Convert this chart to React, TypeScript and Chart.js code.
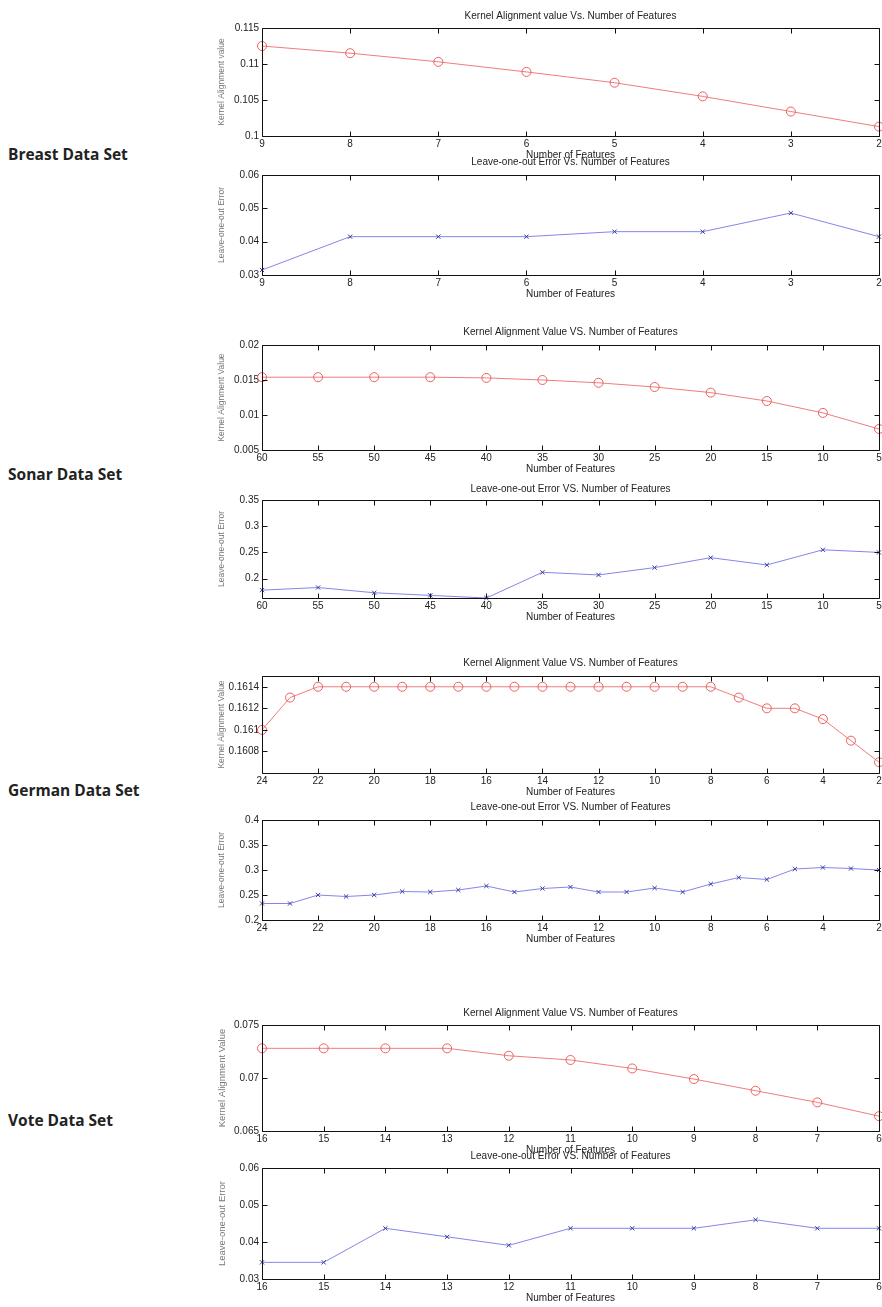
import React, { useEffect, useRef } from "react";
import { Chart, registerables } from "chart.js";

Chart.register(...registerables);

// ---------------- data ----------------
const breastFeatures = [9, 8, 7, 6, 5, 4, 3, 2];
const breastKA = [0.1125, 0.1115, 0.1103, 0.1089, 0.1074, 0.1055, 0.1034, 0.1013];
const breastLOO = [0.0315, 0.0415, 0.0415, 0.0415, 0.043, 0.043, 0.0486, 0.0415];

const sonarFeatures = [60, 55, 50, 45, 40, 35, 30, 25, 20, 15, 10, 5];
const sonarKA = [0.0154, 0.0154, 0.0154, 0.0154, 0.0153, 0.015, 0.0146, 0.014, 0.0132, 0.012, 0.0103, 0.008];
const sonarLOO = [0.178, 0.183, 0.173, 0.168, 0.163, 0.212, 0.207, 0.221, 0.24, 0.226, 0.255, 0.25];

const germanFeatures = [24, 23, 22, 21, 20, 19, 18, 17, 16, 15, 14, 13, 12, 11, 10, 9, 8, 7, 6, 5, 4, 3, 2];
const germanKA = [
  0.161, 0.1613, 0.1614, 0.1614, 0.1614, 0.1614, 0.1614, 0.1614, 0.1614, 0.1614, 0.1614, 0.1614,
  0.1614, 0.1614, 0.1614, 0.1614, 0.1614, 0.1613, 0.1612, 0.1612, 0.1611, 0.1609, 0.1607,
];
const germanLOO = [
  0.233, 0.233, 0.25, 0.247, 0.25, 0.257, 0.256, 0.26, 0.268, 0.256, 0.263, 0.266,
  0.256, 0.256, 0.264, 0.256, 0.272, 0.285, 0.281, 0.302, 0.305, 0.303, 0.3,
];

const voteFeatures = [16, 15, 14, 13, 12, 11, 10, 9, 8, 7, 6];
const voteKA = [0.0728, 0.0728, 0.0728, 0.0728, 0.0721, 0.0717, 0.0709, 0.0699, 0.0688, 0.0677, 0.0664];
const voteLOO = [0.0345, 0.0345, 0.0437, 0.0414, 0.0391, 0.0437, 0.0437, 0.0437, 0.046, 0.0437, 0.0437];

// y tick labels
const breastKATicks = [0.1, 0.105, 0.11, 0.115];
const breastLOOTicks = [0.03, 0.04, 0.05, 0.06];
const sonarKATicks = [0.005, 0.01, 0.015, 0.02];
const sonarLOOTicks = [0.2, 0.25, 0.3, 0.35];
const germanKATicks = [0.1608, 0.161, 0.1612, 0.1614];
const germanLOOTicks = [0.2, 0.25, 0.3, 0.35, 0.4];
const voteKATicks = [0.065, 0.07, 0.075];
const voteLOOTicks = [0.03, 0.04, 0.05, 0.06];

const setLabels = ["Breast Data Set", "Sonar Data Set", "German Data Set", "Vote Data Set"];

// ---------------- layout ----------------
const PLOT_LEFT = 262;
const PLOT_RIGHT = 879;
const Y_AXIS_W = 60;
const RIGHT_PAD = 10;
const X_AXIS_H = 25;
const FONT = "'Liberation Sans', Arial, Helvetica, sans-serif";

type Panel = {
  title: string;
  yTitle: string;
  xs: number[];
  ys: number[];
  kind: "ka" | "loo";
  yMin: number;
  yMax: number;
  yTicks: number[];
  xStep: number;
  top: number;
  bottom: number;
  titleOffset: number;
  yTitleSize: number;
};

const panels: Panel[] = [
  { title: "Kernel Alignment value Vs. Number of Features", yTitle: "Kernel Alignment value", xs: breastFeatures, ys: breastKA, kind: "ka", yMin: 0.1, yMax: 0.115, yTicks: breastKATicks, xStep: 1, top: 28, bottom: 136, titleOffset: 12, yTitleSize: 8.5 },
  { title: "Leave-one-out Error Vs. Number of Features", yTitle: "Leave-one-out Error", xs: breastFeatures, ys: breastLOO, kind: "loo", yMin: 0.03, yMax: 0.06, yTicks: breastLOOTicks, xStep: 1, top: 175, bottom: 275, titleOffset: 13, yTitleSize: 8.5 },
  { title: "Kernel Alignment Value VS. Number of Features", yTitle: "Kernel Alignment Value", xs: sonarFeatures, ys: sonarKA, kind: "ka", yMin: 0.005, yMax: 0.02, yTicks: sonarKATicks, xStep: 5, top: 345, bottom: 450, titleOffset: 13, yTitleSize: 8.5 },
  { title: "Leave-one-out Error VS. Number of Features", yTitle: "Leave-one-out Error", xs: sonarFeatures, ys: sonarLOO, kind: "loo", yMin: 0.163, yMax: 0.35, yTicks: sonarLOOTicks, xStep: 5, top: 500, bottom: 598, titleOffset: 11, yTitleSize: 8.5 },
  { title: "Kernel Alignment Value VS. Number of Features", yTitle: "Kernel Alignment Value", xs: germanFeatures, ys: germanKA, kind: "ka", yMin: 0.1606, yMax: 0.1615, yTicks: germanKATicks, xStep: 2, top: 676, bottom: 773, titleOffset: 13, yTitleSize: 8.5 },
  { title: "Leave-one-out Error VS. Number of Features", yTitle: "Leave-one-out Error", xs: germanFeatures, ys: germanLOO, kind: "loo", yMin: 0.2, yMax: 0.4, yTicks: germanLOOTicks, xStep: 2, top: 820, bottom: 920, titleOffset: 13, yTitleSize: 8.5 },
  { title: "Kernel Alignment Value VS. Number of Features", yTitle: "Kernel Alignment Value", xs: voteFeatures, ys: voteKA, kind: "ka", yMin: 0.065, yMax: 0.075, yTicks: voteKATicks, xStep: 1, top: 1025, bottom: 1131, titleOffset: 12, yTitleSize: 9.5 },
  { title: "Leave-one-out Error VS. Number of Features", yTitle: "Leave-one-out Error", xs: voteFeatures, ys: voteLOO, kind: "loo", yMin: 0.03, yMax: 0.06, yTicks: voteLOOTicks, xStep: 1, top: 1168, bottom: 1279, titleOffset: 12, yTitleSize: 9.5 },
];

const labelCenters = [154, 474, 790, 1120];

const matlabBox = {
  id: "matlabBox",
  afterDatasetsDraw(chart: any) {
    const { ctx, chartArea: a, scales } = chart;
    ctx.save();
    ctx.strokeStyle = "#111";
    ctx.lineWidth = 1;
    const L = Math.round(a.left) + 0.5;
    const T = Math.round(a.top) + 0.5;
    const R = Math.round(a.right) + 0.5;
    const B = Math.round(a.bottom) + 0.5;
    ctx.beginPath();
    ctx.rect(L, T, R - L, B - T);
    const tl = 5;
    scales.x.ticks.forEach((t: any) => {
      const px = Math.round(scales.x.getPixelForValue(t.value)) + 0.5;
      ctx.moveTo(px, B);
      ctx.lineTo(px, B - tl);
      ctx.moveTo(px, T);
      ctx.lineTo(px, T + tl);
    });
    scales.y.ticks.forEach((t: any) => {
      const py = Math.round(scales.y.getPixelForValue(t.value)) + 0.5;
      ctx.moveTo(L, py);
      ctx.lineTo(L + tl, py);
      ctx.moveTo(R, py);
      ctx.lineTo(R - tl, py);
    });
    ctx.stroke();
    ctx.restore();
  },
};

function PanelChart({ p }: { p: Panel }) {
  const ref = useRef<HTMLCanvasElement | null>(null);
  const titlePadBottom = p.titleOffset - 6;
  const TH = 12 + titlePadBottom;
  const width = Y_AXIS_W + (PLOT_RIGHT - PLOT_LEFT) + RIGHT_PAD;
  const height = TH + (p.bottom - p.top) + X_AXIS_H;

  useEffect(() => {
    if (!ref.current) return;
    const isKA = p.kind === "ka";
    const chart = new Chart(ref.current, {
      type: "line",
      data: {
        datasets: [
          {
            data: p.xs.map((x, i) => ({ x, y: p.ys[i] })),
            borderColor: isKA ? "rgba(238,110,110,0.9)" : "rgba(120,120,230,0.9)",
            borderWidth: 1,
            pointStyle: isKA ? "circle" : "crossRot",
            pointRadius: isKA ? 4.5 : 3,
            pointBorderWidth: 1,
            pointBorderColor: isKA ? "rgba(235,90,90,0.95)" : "#3a3aa0",
            pointBackgroundColor: "rgba(0,0,0,0)",
            tension: 0,
            clip: false as any,
          },
        ],
      },
      options: {
        animation: false,
        responsive: false,
        devicePixelRatio: 1,
        layout: { padding: { left: 0, right: RIGHT_PAD, top: 0, bottom: 0 } },
        plugins: {
          legend: { display: false },
          tooltip: { enabled: false },
          title: {
            display: true,
            text: p.title,
            fullSize: false,
            color: "#222",
            font: { family: FONT, size: 10, weight: "normal", lineHeight: 1.2 },
            padding: { top: 0, bottom: titlePadBottom },
          },
        },
        scales: {
          x: {
            type: "linear",
            reverse: true,
            min: Math.min(...p.xs),
            max: Math.max(...p.xs),
            grid: { display: false, drawTicks: false },
            border: { display: false },
            ticks: {
              stepSize: p.xStep,
              color: "#222",
              padding: 2,
              maxRotation: 0,
              autoSkip: false,
              font: { family: FONT, size: 10, lineHeight: 1.2 },
            },
            title: {
              display: true,
              text: "Number of Features",
              color: "#222",
              padding: 0,
              font: { family: FONT, size: 10, lineHeight: 1.2 },
            },
            afterFit: (s: any) => {
              s.height = X_AXIS_H;
            },
          },
          y: {
            type: "linear",
            min: p.yMin,
            max: p.yMax,
            grid: { display: false, drawTicks: false },
            border: { display: false },
            afterBuildTicks: (s: any) => {
              s.ticks = p.yTicks.map((v) => ({ value: v }));
            },
            ticks: {
              color: "#222",
              padding: 3,
              autoSkip: false,
              font: { family: FONT, size: 10, lineHeight: 1.2 },
              callback: (v: any) => String(+Number(v).toFixed(6)),
            },
            title: {
              display: true,
              text: p.yTitle,
              color: "#777",
              padding: { top: 15, bottom: 0 },
              font: { family: FONT, size: p.yTitleSize, lineHeight: 1.2 },
            },
            afterFit: (s: any) => {
              s.width = Y_AXIS_W;
            },
          },
        },
      },
      plugins: [matlabBox],
    });
    return () => chart.destroy();
  }, []);

  return (
    <canvas
      ref={ref}
      width={width}
      height={height}
      style={{
        position: "absolute",
        left: PLOT_LEFT - Y_AXIS_W,
        top: p.top - TH,
        width,
        height,
      }}
    />
  );
}

export default function App() {
  return (
    <div
      style={{
        position: "absolute",
        left: 0,
        top: 0,
        width: 882,
        height: 1307,
        overflow: "hidden",
        background: "#fff",
      }}
    >
      {setLabels.map((t, i) => (
        <div
          key={t}
          style={{
            position: "absolute",
            left: 8,
            top: labelCenters[i] - 11,
            height: 22,
            lineHeight: "22px",
            fontFamily: "'Open Sans', Lato, sans-serif",
            fontWeight: 700,
            fontSize: 15.5,
            color: "#222",
            whiteSpace: "nowrap",
          }}
        >
          {t}
        </div>
      ))}
      {panels.map((p, i) => (
        <PanelChart key={i} p={p} />
      ))}
    </div>
  );
}
